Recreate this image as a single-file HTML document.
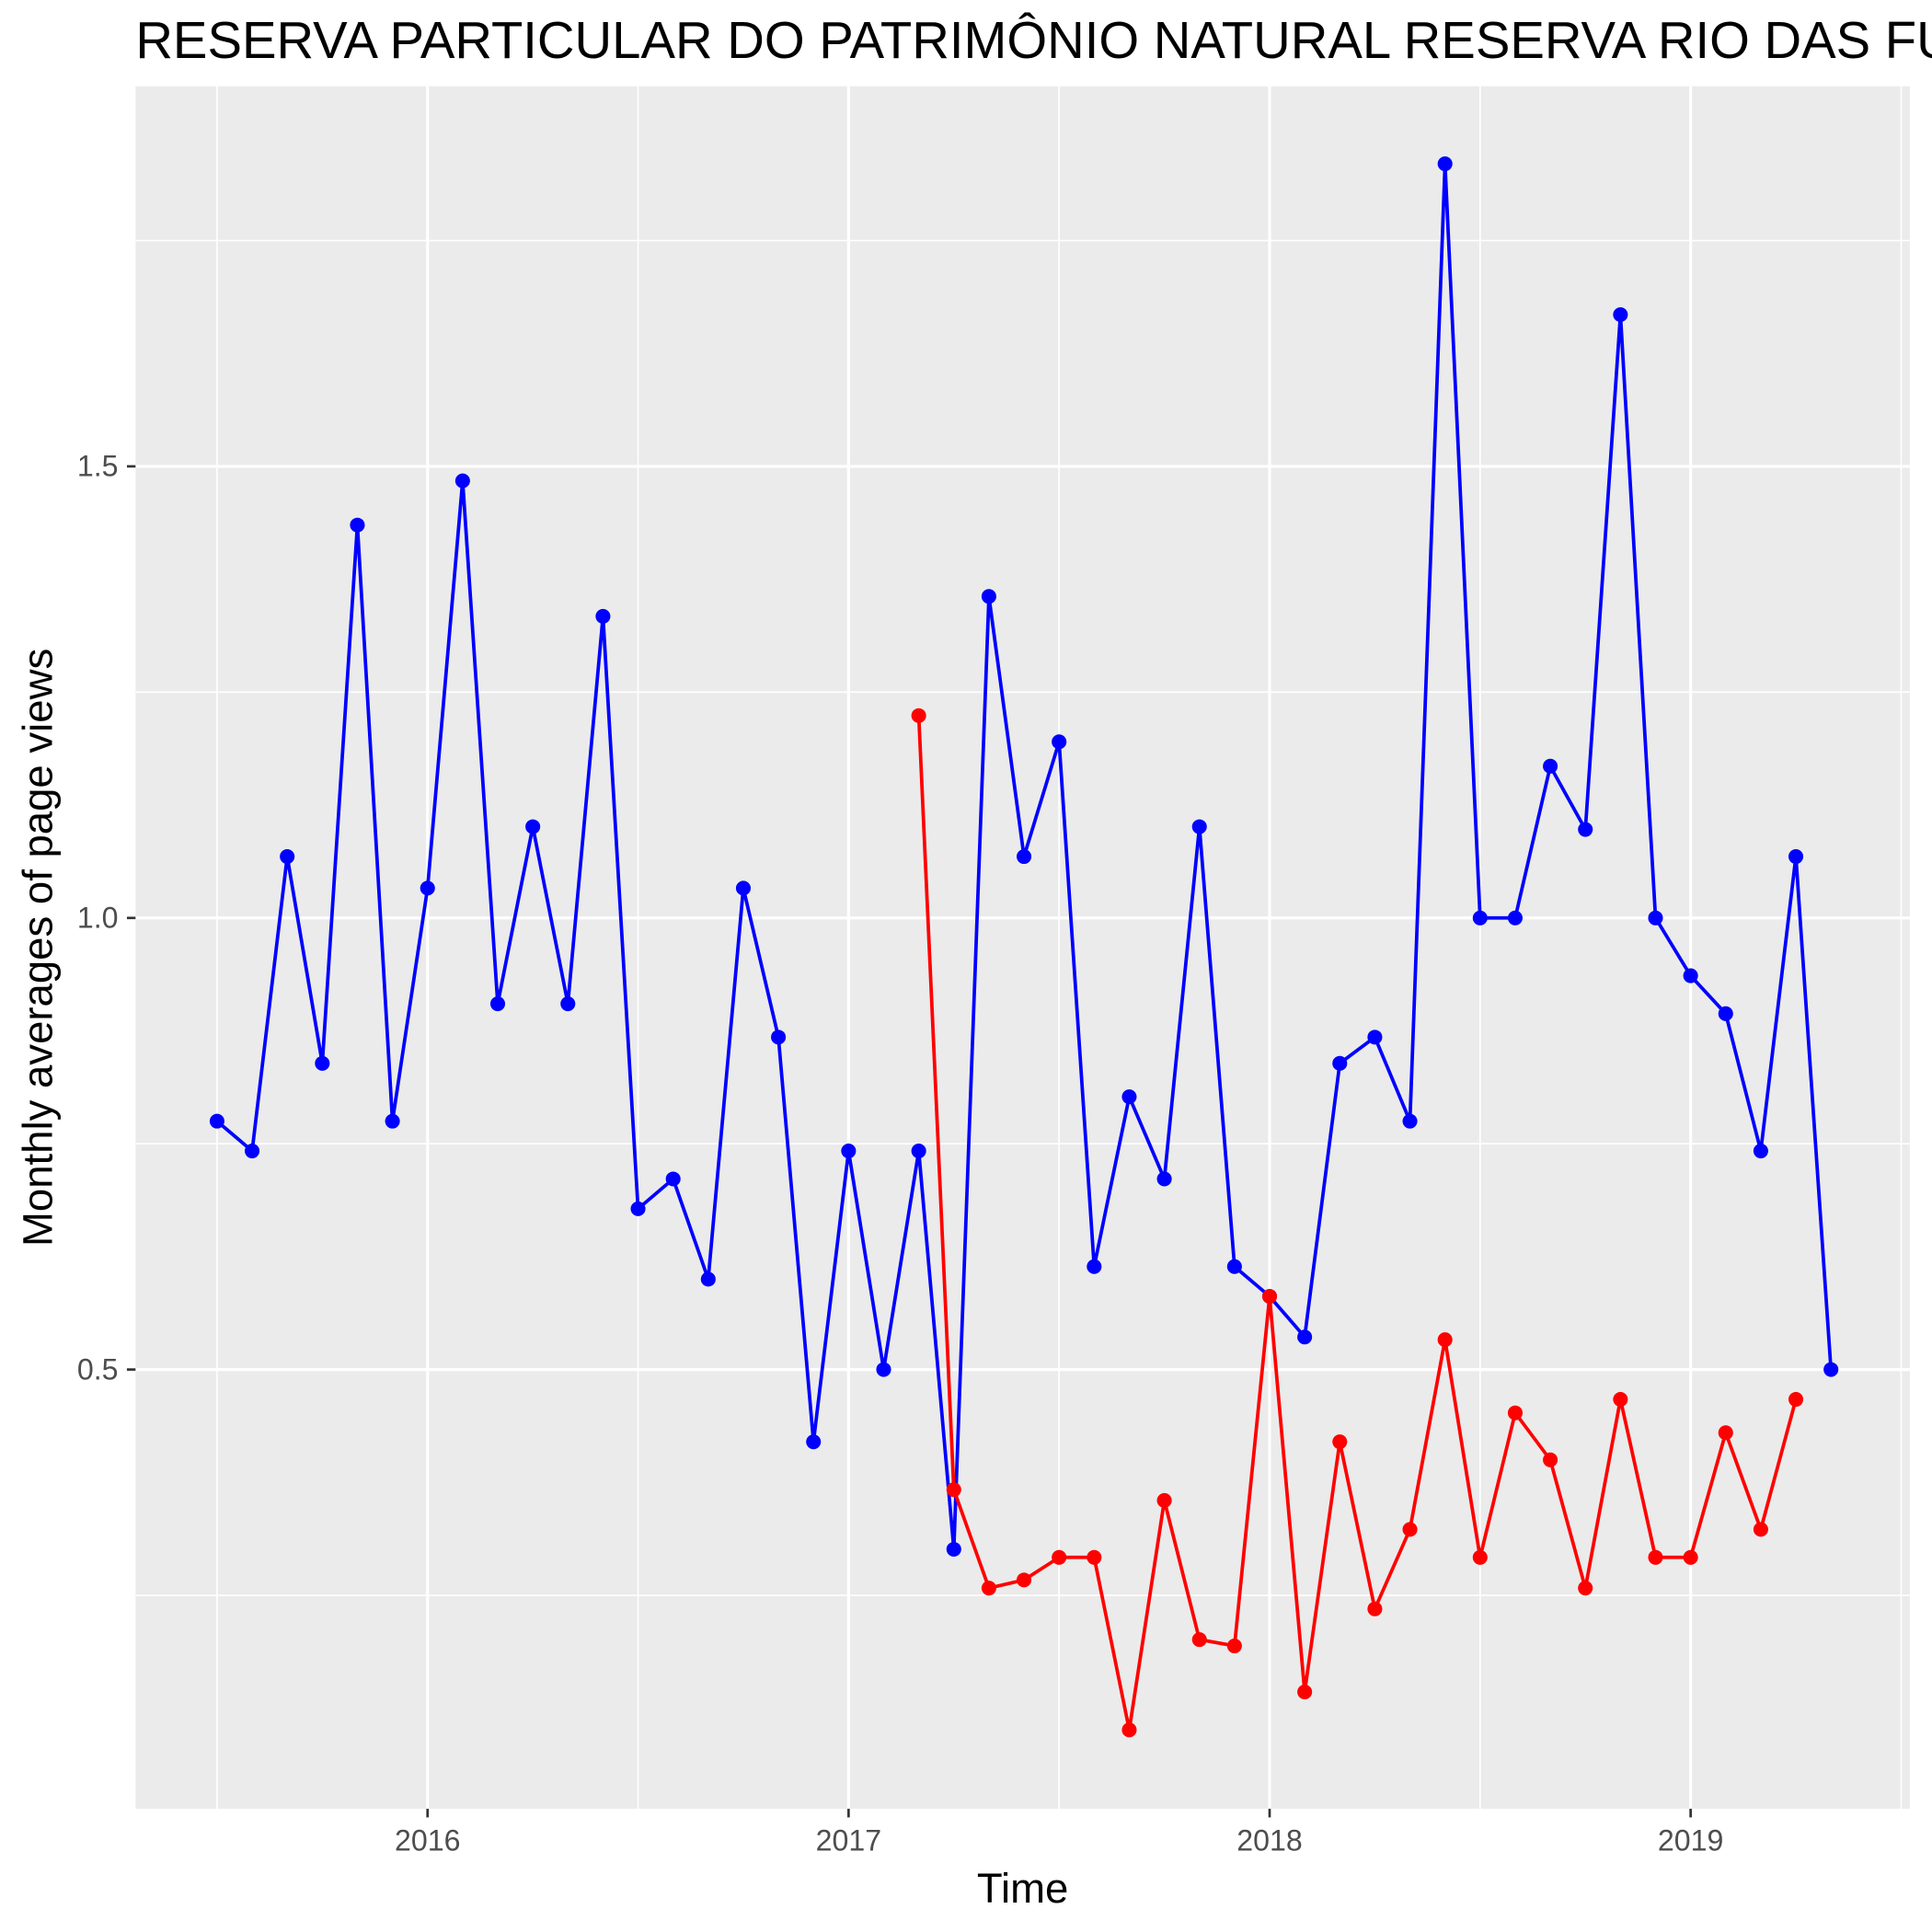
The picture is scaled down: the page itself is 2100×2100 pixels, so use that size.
<!DOCTYPE html>
<html><head><meta charset="utf-8"><style>
html,body{margin:0;padding:0;background:#fff;}
svg{display:block;}
text{font-family:"Liberation Sans",sans-serif;}
</style></head><body>
<svg id="chart" width="2100" height="2100" viewBox="0 0 1568 1568" xmlns="http://www.w3.org/2000/svg">
<text x="110" y="47" font-size="42" fill="#000">RESERVA PARTICULAR DO PATRIMÔNIO NATURAL RESERVA RIO DAS FURNAS</text>
<rect x="110" y="70" width="1440" height="1398" fill="#ebebeb"/>
<g id="grid"></g>
<g id="axes"></g>
<g id="series"></g>
<text x="830" y="1544" font-size="34" text-anchor="middle" fill="#000">Time</text>
<text transform="translate(42,769) rotate(-90)" font-size="34" text-anchor="middle" fill="#000">Monthly averages of page views</text>
</svg>
<script>
const blueValues=[0.775,0.742,1.068,0.839,1.435,0.775,1.033,1.484,0.905,1.101,0.905,1.334,0.678,0.711,0.600,1.033,0.868,0.420,0.742,0.500,0.742,0.301,1.356,1.068,1.195,0.614,0.802,0.711,1.101,0.614,0.581,0.536,0.839,0.868,0.775,1.835,1.0,1.0,1.168,1.098,1.668,1.0,0.936,0.894,0.742,1.068,0.5];
const blueStart=[2015,7];
const redValues=[1.224,0.367,0.258,0.267,0.292,0.292,0.101,0.355,0.201,0.194,0.581,0.143,0.420,0.235,0.323,0.533,0.292,0.452,0.400,0.258,0.467,0.292,0.292,0.430,0.323,0.467];
const redStart=[2017,3];
const yTicks=[0.5,1.0,1.5];
const yTickLabels=["0.5","1.0","1.5"];
const yMinor=[0.25,0.75,1.25,1.75];
const xTicks=[2016,2017,2018,2019];
const xTickLabels=["2016","2017","2018","2019"];
const xMinor=[2015.5,2016.5,2017.5,2018.5,2019.5];

const NS="http://www.w3.org/2000/svg";
function xs(t){return 347+(t-2016)*341.7;}
function ys(v){return 745-(v-1)*733;}
function mk(tag,attrs,parent){const e=document.createElementNS(NS,tag);for(const k in attrs)e.setAttribute(k,attrs[k]);parent.appendChild(e);return e;}
const grid=document.getElementById('grid'),axes=document.getElementById('axes'),series=document.getElementById('series');
yMinor.forEach(v=>{const l=mk('line',{x1:110,x2:1550,y1:ys(v),y2:ys(v),stroke:'#fff','stroke-width':1.2},grid);

});
xMinor.forEach(t=>{const l=mk('line',{x1:xs(t),x2:xs(t),y1:70,y2:1468,stroke:'#fff','stroke-width':1.2},grid);

});
yTicks.forEach((v,i)=>{const l=mk('line',{x1:110,x2:1550,y1:ys(v),y2:ys(v),stroke:'#fff','stroke-width':2.4},grid);


const tk=mk('line',{x1:103,x2:110,y1:ys(v),y2:ys(v),stroke:'#333','stroke-width':2},axes);


const tx=mk('text',{x:96,y:ys(v)+8,'font-size':24,'text-anchor':'end',fill:'#4d4d4d'},axes);tx.textContent=yTickLabels[i];

});
xTicks.forEach((t,i)=>{const l=mk('line',{x1:xs(t),x2:xs(t),y1:70,y2:1468,stroke:'#fff','stroke-width':2.4},grid);


const tk=mk('line',{x1:xs(t),x2:xs(t),y1:1468,y2:1475,stroke:'#333','stroke-width':2},axes);


const tx=mk('text',{x:xs(t),y:1502,'font-size':24,'text-anchor':'middle',fill:'#4d4d4d'},axes);tx.textContent=xTickLabels[i];

});
function draw(vals,start,color,name){
 const pts=vals.map((v,i)=>{const t=start[0]+(start[1]-1+i)/12;return [xs(t),ys(v)];});
 const pl=mk('polyline',{points:pts.map(p=>p.join(',')).join(' '),fill:'none',stroke:color,'stroke-width':2.8},series);
 
 
 pts.forEach(p=>{const c=mk('circle',{cx:p[0],cy:p[1],r:6,fill:color},series);
 
 });
}
draw(blueValues,blueStart,'#0000ff','blue-series');
draw(redValues,redStart,'#ff0000','red-series');
</script>
</body></html>
